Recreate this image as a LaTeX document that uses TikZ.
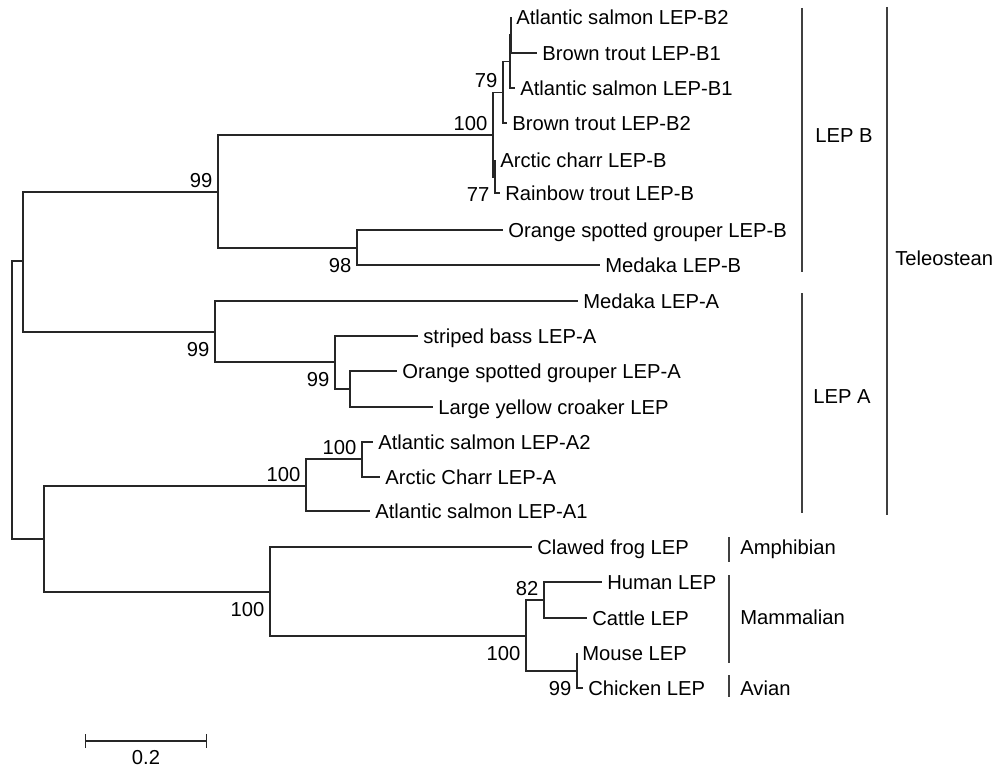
\documentclass[tikz,border=0pt]{standalone}
\usepackage{fontspec}
\setmainfont{Liberation Sans}
\usepackage{tikz}
\usetikzlibrary{positioning,arrows.meta}
\tikzset{
  br/.style={line width=0.8pt, black!85},
  leaf/.style={font=\fontsize{11.5}{13}\selectfont, inner sep=0pt,
               text height=8.2pt, text depth=0pt},
  bsa/.style={leaf, above left=2.5pt and 3pt of #1},
  bsb/.style={leaf, below left=5.4pt and 3pt of #1},
  grp/.style={leaf, anchor=west},
  bar/.style={line width=0.6pt, black!75},
}

\begin{document}
\begin{tikzpicture}[x=0.02cm, y=-0.02cm, node distance=1mm]
  \useasboundingbox (0,0) rectangle (1000,767);
  % internal nodes
  \coordinate (root) at (12,400);
  \coordinate (c1) at (23,261);
  \coordinate (c2) at (44,539);
  \coordinate (b99) at (218,192);
  \coordinate (b100) at (493,135);
  \coordinate (b79) at (503,92.5);
  \coordinate (bx) at (510,61.5);
  \coordinate (by) at (511,35);
  \coordinate (bch) at (495,177);
  \coordinate (b98) at (357,248);
  \coordinate (a99) at (215,332);
  \coordinate (a99b) at (335,362);
  \coordinate (ac) at (350,389);
  \coordinate (s100) at (306,486);
  \coordinate (s100b) at (362,459);
  \coordinate (o100) at (270,592);
  \coordinate (m100) at (526,636);
  \coordinate (m82) at (544,600);
  \coordinate (m99) at (577,671);
  % tips
  \coordinate (tAsB2) at (511,17);
  \coordinate (tBtB1) at (537,53);
  \coordinate (tAsB1) at (515,88);
  \coordinate (tBtB2) at (507,123);
  \coordinate (tAcB) at (495,160);
  \coordinate (tRtB) at (500,193);
  \coordinate (tOsgB) at (503,230);
  \coordinate (tMdB) at (600,265);
  \coordinate (tMdA) at (578,301);
  \coordinate (tSbA) at (418,336);
  \coordinate (tOsgA) at (397,371);
  \coordinate (tLyc) at (433,407);
  \coordinate (tAsA2) at (373,442);
  \coordinate (tAcA) at (380,477);
  \coordinate (tAsA1) at (370,511);
  \coordinate (tFrog) at (532,547);
  \coordinate (tHum) at (602,582);
  \coordinate (tCat) at (587,618);
  \coordinate (tMou) at (577,653);
  \coordinate (tChk) at (583,688);
  % branches
  \foreach \p/\c in {root/c1, root/c2, c1/b99, c1/a99, b99/b100, b99/b98,
      b100/b79, b100/bch, b79/bx, b79/tBtB2, bx/by, bx/tAsB1, by/tAsB2, by/tBtB1,
      bch/tAcB, bch/tRtB, b98/tOsgB, b98/tMdB, a99/tMdA, a99/a99b,
      a99b/tSbA, a99b/ac, ac/tOsgA, ac/tLyc, c2/s100, c2/o100,
      s100/s100b, s100/tAsA1, s100b/tAsA2, s100b/tAcA, o100/tFrog, o100/m100,
      m100/m82, m100/m99, m82/tHum, m82/tCat, m99/tMou, m99/tChk}
    \draw[br] (\p) |- (\c);
  % leaf names
  \node[leaf, right=of tAsB2] (lAsB2) {Atlantic salmon LEP-B2};
  \node[leaf, right=of tBtB1] (lBtB1) {Brown trout LEP-B1};
  \node[leaf, right=of tAsB1] (lAsB1) {Atlantic salmon LEP-B1};
  \node[leaf, right=of tBtB2] (lBtB2) {Brown trout LEP-B2};
  \node[leaf, right=of tAcB] (lAcB) {Arctic charr LEP-B};
  \node[leaf, right=of tRtB] (lRtB) {Rainbow trout LEP-B};
  \node[leaf, right=of tOsgB] (lOsgB) {Orange spotted grouper LEP-B};
  \node[leaf, right=of tMdB] (lMdB) {Medaka LEP-B};
  \node[leaf, right=of tMdA] (lMdA) {Medaka LEP-A};
  \node[leaf, right=of tSbA] (lSbA) {striped bass LEP-A};
  \node[leaf, right=of tOsgA] (lOsgA) {Orange spotted grouper LEP-A};
  \node[leaf, right=of tLyc] (lLyc) {Large yellow croaker LEP};
  \node[leaf, right=of tAsA2] (lAsA2) {Atlantic salmon LEP-A2};
  \node[leaf, right=of tAcA] (lAcA) {Arctic Charr LEP-A};
  \node[leaf, right=of tAsA1] (lAsA1) {Atlantic salmon LEP-A1};
  \node[leaf, right=of tFrog] (lFrog) {Clawed frog LEP};
  \node[leaf, right=of tHum] (lHum) {Human LEP};
  \node[leaf, right=of tCat] (lCat) {Cattle LEP};
  \node[leaf, right=of tMou] (lMou) {Mouse LEP};
  \node[leaf, right=of tChk] (lChk) {Chicken LEP};
  % bootstrap values
  \node[bsa=b79] (v79) {79};
  \node[bsa=b100] (vb100) {100};
  \node[bsb=bch] (v77) {77};
  \node[bsa=b99] (vb99) {99};
  \node[bsb=b98] (v98) {98};
  \node[bsb=a99] (va99) {99};
  \node[bsb=a99b] (va99b) {99};
  \node[bsa=s100b] (vs100b) {100};
  \node[bsa=s100] (vs100) {100};
  \node[bsb=o100] (vo100) {100};
  \node[bsa=m82] (v82) {82};
  \node[bsb=m100] (vm100) {100};
  \node[bsb=m99] (vm99) {99};
  % group bars
  \coordinate (gBt) at (802,8);    \coordinate (gBb) at (802,272);
  \coordinate (gAt) at (802,293);  \coordinate (gAb) at (802,513);
  \coordinate (gTt) at (887,7);    \coordinate (gTb) at (887,515);
  \coordinate (gFt) at (729,537);  \coordinate (gFb) at (729,562);
  \coordinate (gMt) at (729,575);  \coordinate (gMb) at (729,663);
  \coordinate (gVt) at (729,675);  \coordinate (gVb) at (729,697);
  \draw[bar] (gBt) -- (gBb);
  \draw[bar] (gAt) -- (gAb);
  \draw[bar] (gTt) -- (gTb);
  \draw[bar] (gFt) -- (gFb);
  \draw[bar] (gMt) -- (gMb);
  \draw[bar] (gVt) -- (gVb);
  \node[grp] (nLepB) at (815,135) {LEP B};
  \node[grp] (nLepA) at (813,396) {LEP A};
  \node[grp] (nTel) at (895,258) {Teleostean};
  \node[grp] (nAmph) at (740,547) {Amphibian};
  \node[grp] (nMam) at (740,617) {Mammalian};
  \node[grp] (nAv) at (740,688) {Avian};
  % scale bar
  \coordinate (sL) at (85,741);
  \coordinate (sR) at (207,741);
  \draw[br, {Bar[width=8pt]}-{Bar[width=8pt]}] (sL) -- (sR);
  \node[leaf] (sLbl) at (146,757) {0.2};
\end{tikzpicture}
\end{document}
